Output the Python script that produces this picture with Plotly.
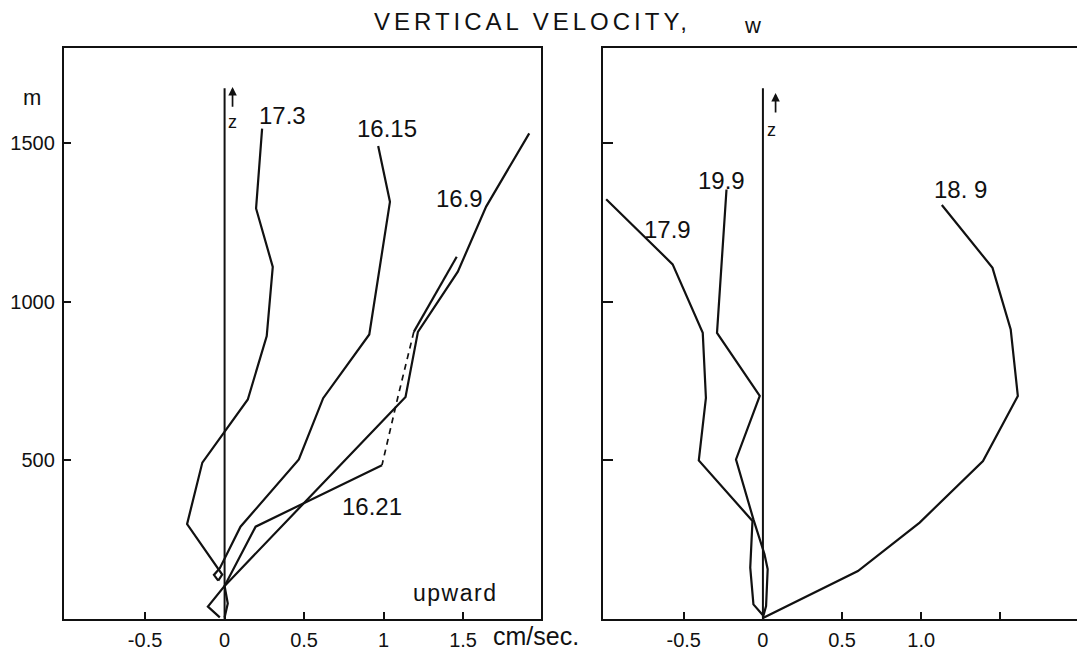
import plotly.graph_objects as go

# ---------------- data (w in cm/sec, z in m) ----------------
# left panel
w_173 = [0.236, 0.198, 0.303, 0.265, 0.146, -0.14, -0.236, -0.015, -0.04]
z_173 = [1546, 1294, 1110, 892, 692, 493, 299, 140, 121]

w_1615 = [0.966, 1.04, 0.91, 0.62, 0.467, 0.10, -0.03, -0.067, -0.04]
z_1615 = [1491, 1315, 897, 696, 503, 291, 160, 139, 121]

w_169 = [1.916, 1.645, 1.467, 1.216, 1.138, 0.0, 0.02, 0.0]
z_169 = [1531, 1300, 1095, 905, 700, 104, 49, 5]

w_1621_top = [1.46, 1.19]
z_1621_top = [1142, 905]
w_1621_dash = [1.19, 1.09, 0.99]
z_1621_dash = [905, 700, 485]
w_1621_low = [0.99, 0.195, 0.0, -0.105, -0.03]
z_1621_low = [485, 291, 104, 39, 5]

# right panel
w_179 = [-0.99, -0.57, -0.38, -0.36, -0.405, -0.066, -0.08, -0.06, 0.0]
z_179 = [1323, 1118, 902, 697, 500, 309, 162, 46, 12]

w_199 = [-0.23, -0.29, -0.02, -0.17, -0.06, 0.01, 0.03, 0.02, 0.0]
z_199 = [1354, 902, 703, 503, 314, 204, 157, 41, 5]

w_189 = [1.13, 1.45, 1.565, 1.61, 1.39, 0.99, 0.60, 0.0]
z_189 = [1305, 1107, 913, 703, 498, 304, 151, 3]

# z reference axis (w = 0)
w_zaxis = [0, 0]
z_zaxis = [0, 1673]

# tick labels
x_tickvals = [-0.5, 0, 0.5, 1, 1.5]
x_ticktext_left = ["-0.5", "0", "0.5", "1", "1.5"]
x_ticktext_right = ["-0.5", "0", "0.5", "1.0", ""]
y_tickvals = [500, 1000, 1500]
y_ticktext = ["500", "1000", "1500"]

FONT = "Liberation Sans"
BLACK = "#111111"
# the page body has an 8 px margin; the figure is sized so it ends at the window edge
OFF = 8
W, H = 1085 - OFF, 652 - OFF


def fx(p):  # page x pixel -> paper fraction
    return (p - OFF) / W


def fy(p):  # page y pixel (from top) -> paper fraction
    return (652 - p) / H


fig = go.Figure()


def line(x, y, xa, ya, width=2.2, dash="solid"):
    fig.add_trace(go.Scatter(x=x, y=y, mode="lines", xaxis=xa, yaxis=ya,
                             line=dict(color=BLACK, width=width, dash=dash),
                             showlegend=False, hoverinfo="skip"))


# left panel
line(w_zaxis, z_zaxis, "x", "y", 2.0)
line(w_173, z_173, "x", "y")
line(w_1615, z_1615, "x", "y")
line(w_169, z_169, "x", "y")
line(w_1621_top, z_1621_top, "x", "y")
line(w_1621_dash, z_1621_dash, "x", "y", 1.7, "6px,5px")
line(w_1621_low, z_1621_low, "x", "y")

# right panel
line(w_zaxis, z_zaxis, "x2", "y2", 2.0)
line(w_179, z_179, "x2", "y2")
line(w_199, z_199, "x2", "y2")
line(w_189, z_189, "x2", "y2")

yd = [fy(619), fy(48)]
axis_common = dict(showgrid=False, zeroline=False, showline=True, mirror=True,
                   linecolor=BLACK, linewidth=2.4, ticks="inside",
                   tickcolor=BLACK, tickwidth=1.8, automargin=False,
                   tickfont=dict(family=FONT, size=20, color=BLACK))

fig.update_layout(
    width=W, height=H,
    margin=dict(l=0, r=0, t=0, b=0),
    paper_bgcolor="white", plot_bgcolor="white",
    template="none",
    showlegend=False,
    xaxis=dict(domain=[fx(64), fx(541)], range=[-1.01, 1.99], anchor="y",
               tickvals=x_tickvals, ticktext=x_ticktext_left, ticklen=7,
               ticklabelstandoff=2, **axis_common),
    yaxis=dict(domain=yd, range=[0, 1800], anchor="x",
               tickvals=y_tickvals, ticktext=y_ticktext, ticklen=7,
               ticklabelstandoff=3, **axis_common),
    xaxis2=dict(domain=[fx(603), fx(1078)], range=[-1.01, 1.99], anchor="y2",
                tickvals=x_tickvals, ticktext=x_ticktext_right, ticklen=7,
                ticklabelstandoff=2, **axis_common),
    yaxis2=dict(domain=yd, range=[0, 1800], anchor="x2",
                tickvals=y_tickvals, showticklabels=False, ticklen=10,
                **axis_common),
)

ann = []


def label(text, x, y, xref, yref, size=24):
    ann.append(dict(text=text, x=x, y=y, xref=xref, yref=yref, showarrow=False,
                    font=dict(family=FONT, size=size, color=BLACK),
                    xanchor="center", yanchor="middle"))


# curve labels
label("17.3", 0.365, 1588, "x", "y")
label("16.15", 1.02, 1547, "x", "y")
label("16.9", 1.48, 1327, "x", "y")
label("16.21", 0.93, 356, "x", "y")
label('<span style="letter-spacing:1.5px">upward</span>', 1.45, 82, "x", "y", 23)
label("z", 0.05, 1566, "x", "y", 18)

label("19.9", -0.26, 1383, "x2", "y2")
label("17.9", -0.60, 1229, "x2", "y2")
label("18. 9", 1.25, 1355, "x2", "y2")
label("z", 0.055, 1540, "x2", "y2", 18)

# z arrows
for xr, yr, xa, tip, tail in [("x", "y", 0.05, 1677, 1610), ("x2", "y2", 0.08, 1658, 1592)]:
    ann.append(dict(x=xa, y=tip, ax=xa, ay=tail, xref=xr, yref=yr, axref=xr, ayref=yr,
                    showarrow=True, arrowhead=2, arrowsize=1, arrowwidth=1.7,
                    arrowcolor=BLACK, text=""))

# title, units
ann.append(dict(text='<span style="letter-spacing:4px">VERTICAL VELOCITY,</span>',
                x=fx(532), y=fy(22), xref="paper", yref="paper",
                showarrow=False, font=dict(family=FONT, size=24, color=BLACK),
                xanchor="center", yanchor="middle"))
ann.append(dict(text="w", x=fx(752), y=fy(25), xref="paper", yref="paper",
                showarrow=False, font=dict(family=FONT, size=22, color=BLACK),
                xanchor="center", yanchor="middle"))
ann.append(dict(text="m", x=fx(32), y=fy(98), xref="paper", yref="paper",
                showarrow=False, font=dict(family=FONT, size=22, color=BLACK),
                xanchor="center", yanchor="middle"))
ann.append(dict(text="cm/sec.", x=fx(536), y=fy(636), xref="paper", yref="paper",
                showarrow=False, font=dict(family=FONT, size=25, color=BLACK),
                xanchor="center", yanchor="middle"))

fig.update_layout(annotations=ann)
fig.write_html("out.html")
